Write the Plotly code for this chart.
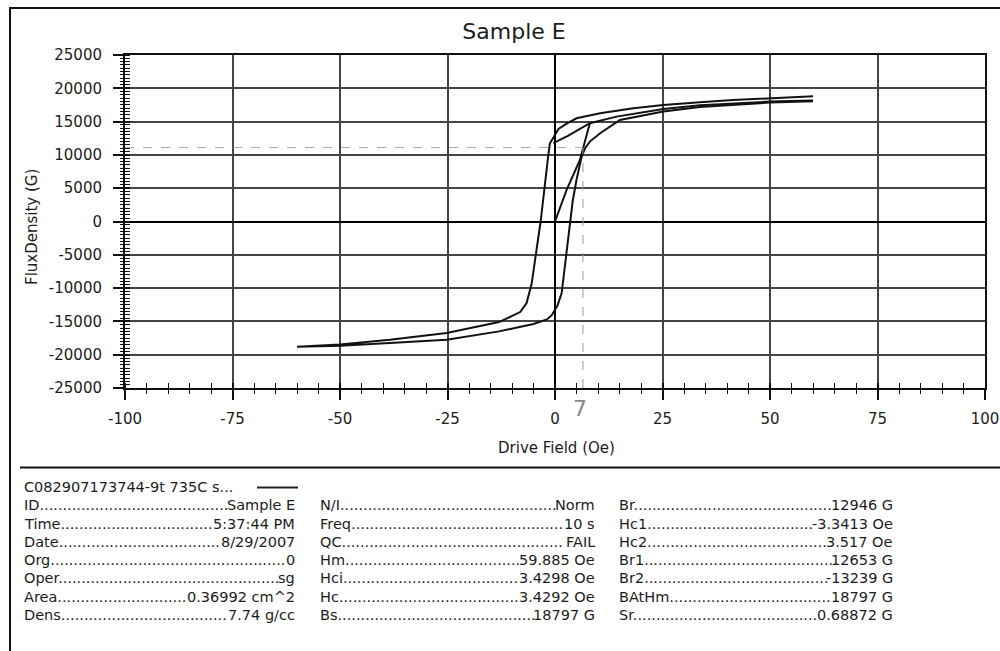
import plotly.graph_objects as go

# ---------------- data ----------------
initial_H = [0, 2.7, 5.8, 7.0, 8.1]
initial_B = [0, 4750, 9250, 12250, 14760]

recoil_H = [-0.4, 3.0, 8.1, 14.3, 25.2, 33.7, 50, 60]
recoil_B = [11760, 12850, 14760, 15750, 16900, 17450, 18000, 18150]

desc_H = [60, 50, 41.4, 33.7, 25.2, 18.2, 10.5, 5.0, 2.7, 0.8, 0, -0.5, -1.2, -1.6, -2.7,
          -3.34, -4.3, -5.4, -6.6, -8.1, -13, -25.2, -38.4, -50, -60]
desc_B = [18797, 18500, 18250, 17900, 17500, 17000, 16250, 15500, 14700, 13900, 13100, 12500,
          11700, 9750, 3750, 0, -4250, -9250, -12250, -13600, -15100, -16750, -17750, -18450, -18797]

asc_H = [-60, -50, -38.4, -25.2, -13, -5, -1.9, -0.8, 0, 0.6, 1.55, 2.3, 3.0, 3.52, 4.1, 5.0,
         6.2, 7.0, 8.1, 10.5, 15.1, 25.2, 33.7, 50, 60]
asc_B = [-18797, -18650, -18250, -17750, -16500, -15400, -14700, -14100, -13239, -12600, -10750,
         -6750, -3000, 0, 3000, 6250, 9750, 11000, 12000, 13250, 15250, 16500, 17200, 17850, 18050]

marker_H = 6.5      # hand-drawn guide lines
marker_B = 11100
marker_label = "7"

title_text = "Sample E"
x_title = "Drive Field (Oe)"
y_title = "FluxDensity (G)"
series_name = "C082907173744-9t 735C s..."

x_tickvals = [-100, -75, -50, -25, 0, 25, 50, 75, 100]
x_ticktext = ["-100", "-75", "-50", "-25", "0", "25", "50", "75", "100"]
y_tickvals = [-25000, -20000, -15000, -10000, -5000, 0, 5000, 10000, 15000, 20000, 25000]
y_ticktext = ["-25000", "-20000", "-15000", "-10000", "-5000", "0", "5000", "10000",
              "15000", "20000", "25000"]

col1_labels = ["ID", "Time", "Date", "Org", "Oper", "Area", "Dens"]
col1_values = ["Sample E", "5:37:44 PM", "8/29/2007", "0", "sg", "0.36992 cm^2", "7.74 g/cc"]
col2_labels = ["N/I", "Freq", "QC", "Hm", "Hci", "Hc", "Bs"]
col2_values = ["Norm", "10 s", "FAIL", "59.885 Oe", "3.4298 Oe", "3.4292 Oe", "18797 G"]
col3_labels = ["Br", "Hc1", "Hc2", "Br1", "Br2", "BAtHm", "Sr"]
col3_values = ["12946 G", "-3.3413 Oe", "3.517 Oe", "12653 G", "-13239 G", "18797 G", "0.68872 G"]

# ---------------- layout helpers ----------------
W, H = 1000, 651
ML, MR, MT, MB = 125, 15, 55, 263
PW, PH = W - ML - MR, H - MT - MB
FONT = "DejaVu Sans"
INK = "#1c1c1c"


def fx(px):
    return (px - ML) / PW


def fy(py):
    return (H - MB - py) / PH


DV = {'.': .318, 'I': .295, 'D': .770, 'T': .611, 'i': .278, 'm': .974, 'e': .615, 'a': .613,
      't': .392, 'O': .787, 'r': .411, 'g': .635, 'p': .635, 'A': .684, 'n': .634, 's': .521,
      'N': .748, '/': .337, 'F': .575, 'q': .635, 'Q': .787, 'C': .698, 'H': .752, 'c': .550,
      'B': .686, 'S': .635, 'h': .634, 'l': .278, 'E': .632, 'M': .863, ' ': .318, ':': .337,
      'P': .603, 'L': .557, 'G': .775, 'o': .612, '^': .838, '-': .361}


def text_w(s, size):
    return sum(DV.get(ch, .636) for ch in s) * size


xs = initial_H + [None] + recoil_H + [None] + desc_H + asc_H[1:]
ys = initial_B + [None] + recoil_B + [None] + desc_B + asc_B[1:]

fig = go.Figure()
fig.add_trace(go.Scatter(x=xs, y=ys, mode="lines", name=series_name,
                         line=dict(color="#111111", width=2), showlegend=False,
                         connectgaps=False, hoverinfo="skip"))
# invisible trace for overlay axes (tick crossings)
fig.add_trace(go.Scatter(x=[0], y=[0], xaxis="x2", yaxis="y2", mode="markers",
                         marker=dict(opacity=0), showlegend=False, hoverinfo="skip"))

axis_common = dict(showline=True, linecolor="#111111", linewidth=2, mirror=True,
                   showgrid=True, gridcolor="#444444", gridwidth=1.5,
                   zeroline=True, zerolinecolor="#000000", zerolinewidth=2.2,
                   tickfont=dict(family=FONT, size=15, color=INK), automargin=False,
                   ticks="outside", ticklen=10, tickwidth=1.5, tickcolor="#111111")

fig.update_layout(
    width=W, height=H, autosize=False,
    paper_bgcolor="white", plot_bgcolor="white",
    margin=dict(l=ML, r=MR, t=MT, b=MB, autoexpand=False),
    title=dict(text=title_text, x=0.514, xanchor="center", y=1 - 31.5 / H, yanchor="middle",
               font=dict(family=FONT, size=22, color=INK)),
    xaxis=dict(range=[-100, 100], tickvals=x_tickvals, ticktext=x_ticktext, ticklabelstandoff=6,
               minor=dict(dtick=5, tick0=0, ticks="inside", ticklen=5, tickwidth=1.3,
                          tickcolor="#111111", showgrid=False),
               **axis_common),
    yaxis=dict(range=[-25000, 25000], tickvals=y_tickvals, ticktext=y_ticktext, ticklabelstandoff=8,
               minor=dict(dtick=500, tick0=0, ticks="inside", ticklen=5, tickwidth=1.2,
                          tickcolor="#111111", showgrid=False),
               **axis_common),
    xaxis2=dict(overlaying="x", matches="x", anchor="y", side="bottom", showgrid=False,
                zeroline=False, showticklabels=False, showline=False, automargin=False,
                tickvals=x_tickvals, ticks="inside", ticklen=5, tickwidth=1.5, tickcolor="#111111",
                minor=dict(dtick=5, tick0=0, ticks="outside", ticklen=5, tickwidth=1.3,
                           tickcolor="#111111", showgrid=False)),
    yaxis2=dict(overlaying="y", matches="y", anchor="x", side="left", showgrid=False,
                zeroline=False, showticklabels=False, showline=False, automargin=False,
                tickvals=y_tickvals, ticks="inside", ticklen=5, tickwidth=1.5, tickcolor="#111111",
                minor=dict(dtick=500, tick0=0, ticks="outside", ticklen=4, tickwidth=1.2,
                           tickcolor="#111111", showgrid=False)),
    showlegend=False,
)

shapes = []
# outer frame and separator
shapes.append(dict(type="rect", xref="paper", yref="paper", x0=fx(10), x1=fx(1004),
                   y0=fy(655), y1=fy(8), line=dict(color="#111111", width=2)))
shapes.append(dict(type="line", xref="paper", yref="paper", x0=fx(20), x1=fx(1004),
                   y0=fy(467.5), y1=fy(467.5), line=dict(color="#111111", width=2)))
# hand-drawn guide lines
shapes.append(dict(type="line", xref="x", yref="y", x0=marker_H, x1=marker_H,
                   y0=-25000, y1=marker_B, line=dict(color="#9a9a9a", width=1, dash="dash")))
shapes.append(dict(type="line", xref="x", yref="y", x0=-100, x1=marker_H,
                   y0=marker_B, y1=marker_B, line=dict(color="#a8a8a8", width=1, dash="dash")))
# legend line
shapes.append(dict(type="line", xref="paper", yref="paper", x0=fx(257), x1=fx(298),
                   y0=fy(487.5), y1=fy(487.5), line=dict(color="#222222", width=2)))

ann = []
ann.append(dict(text=x_title, xref="paper", yref="paper", x=fx(556), y=fy(448),
                xanchor="center", yanchor="middle", showarrow=False,
                font=dict(family=FONT, size=15, color=INK)))
ann.append(dict(text=y_title, xref="paper", yref="paper", x=fx(32), y=fy(227),
                xanchor="center", yanchor="middle", showarrow=False, textangle=-90,
                font=dict(family=FONT, size=15, color=INK)))
ann.append(dict(text=marker_label, xref="paper", yref="paper", x=fx(580), y=fy(408),
                xanchor="center", yanchor="middle", showarrow=False,
                font=dict(family=FONT, size=22, color="#8a8a8a")))
ann.append(dict(text=series_name, xref="paper", yref="paper", x=fx(22), y=fy(487),
                xanchor="left", yanchor="middle", showarrow=False,
                font=dict(family=FONT, size=14.5, color=INK)))

TS = 14.5
row_y = [505.5, 523.7, 541.9, 560.1, 578.3, 596.5, 614.7]
columns = [(22, 297, col1_labels, col1_values),
           (318, 597, col2_labels, col2_values),
           (617, 895, col3_labels, col3_values)]
for x0, x1, labels, values in columns:
    for yy, lab, val in zip(row_y, labels, values):
        avail = x1 - x0 - text_w(lab, TS) - text_w(val, TS) - 1
        n = max(int(avail / (DV['.'] * TS)), 0)
        ann.append(dict(text=lab + "." * n, xref="paper", yref="paper", x=fx(x0), y=fy(yy),
                        xanchor="left", yanchor="middle", showarrow=False,
                        font=dict(family=FONT, size=TS, color=INK)))
        ann.append(dict(text=val, xref="paper", yref="paper", x=fx(x1), y=fy(yy),
                        xanchor="right", yanchor="middle", showarrow=False,
                        font=dict(family=FONT, size=TS, color=INK)))

fig.update_layout(shapes=shapes, annotations=ann)
fig.write_html("out.html", config={"displayModeBar": False},
               post_script="document.body.style.margin='0px';")
